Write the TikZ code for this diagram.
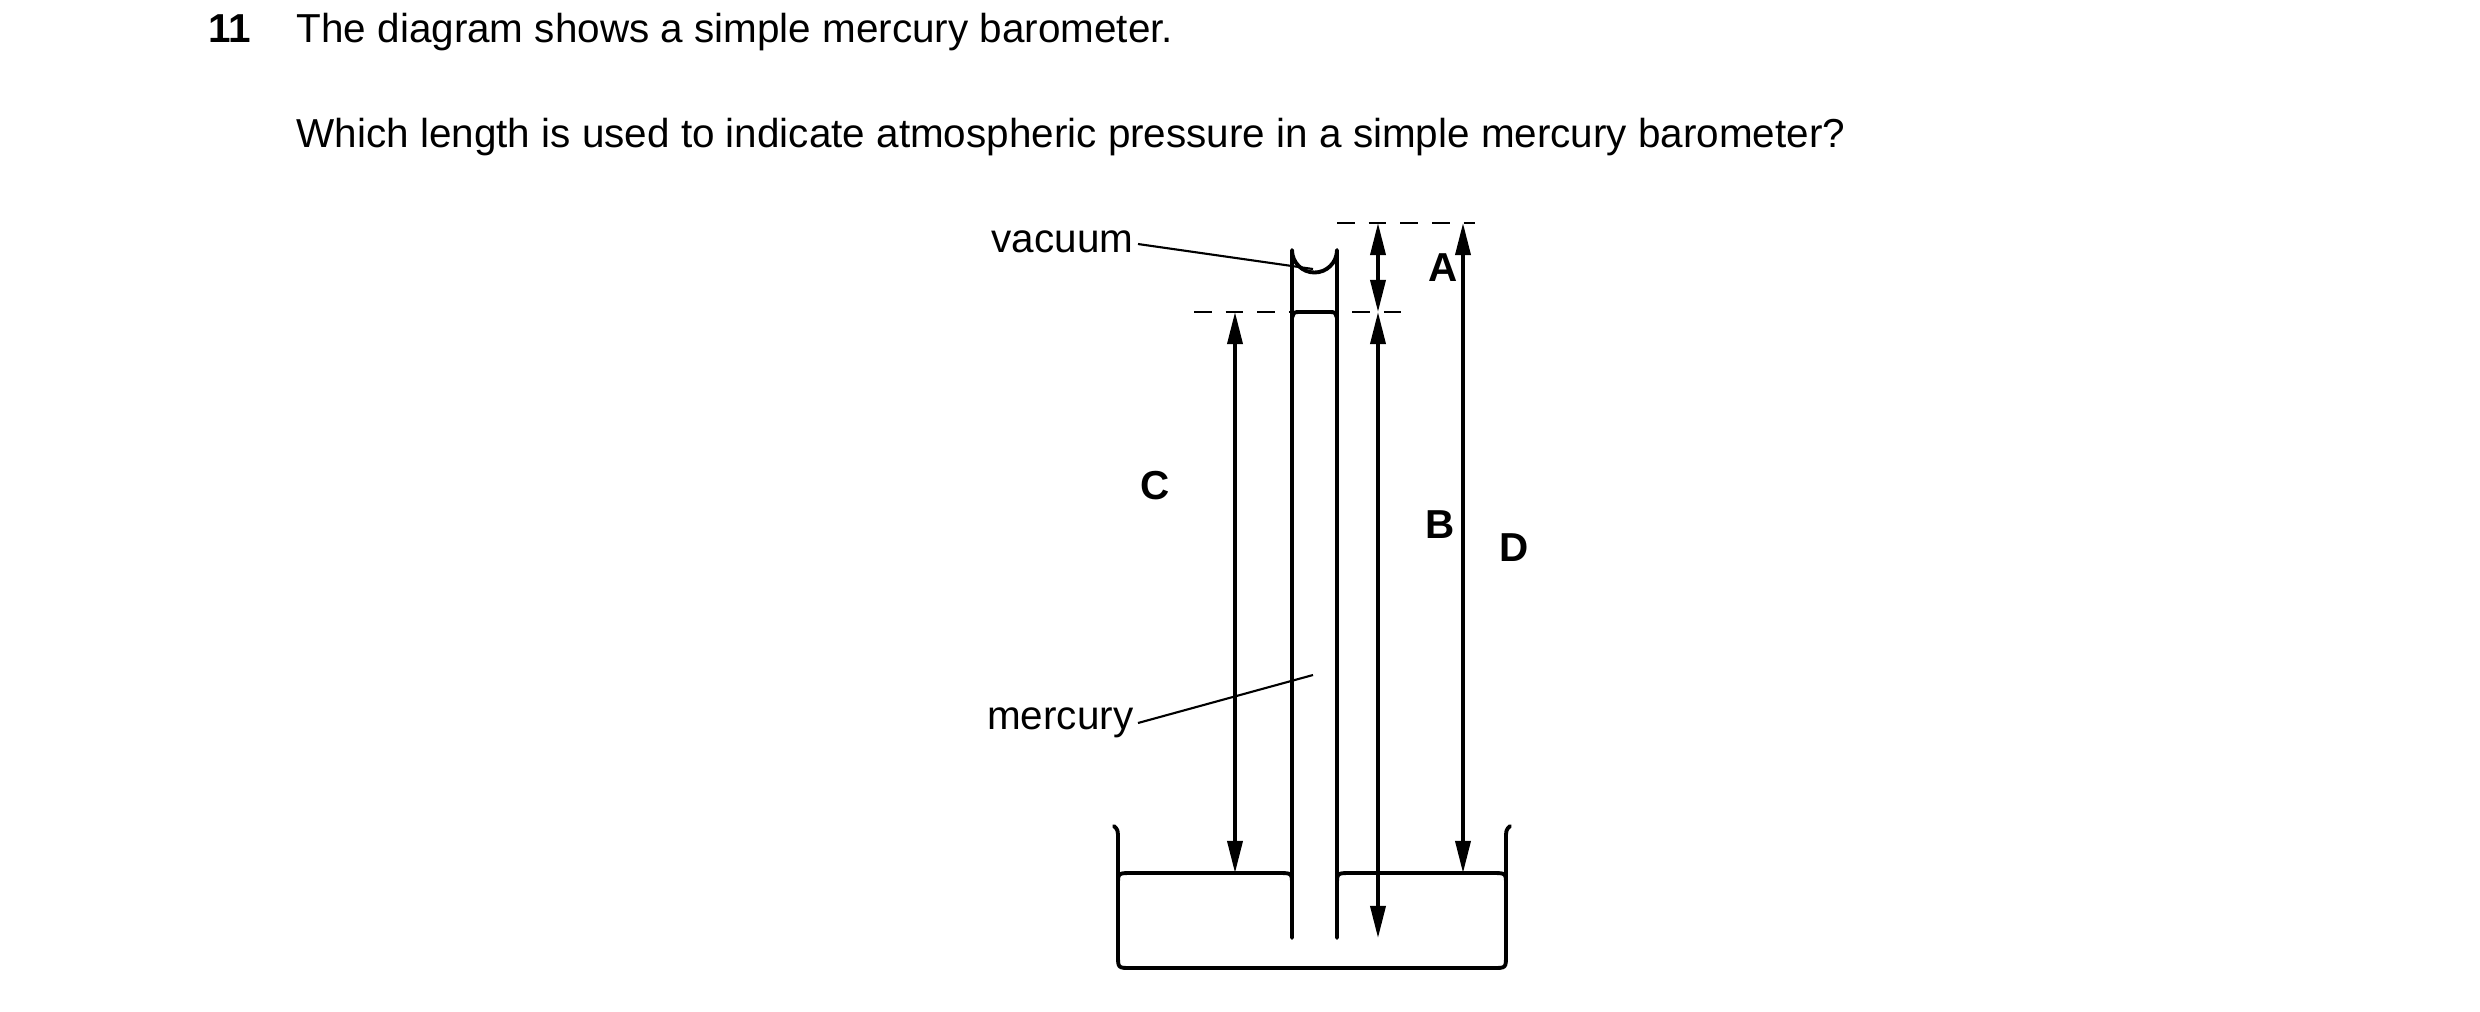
\documentclass[tikz,border=0pt]{standalone}
\usepackage{fontspec}
\setmainfont{Liberation Sans}
\usetikzlibrary{arrows.meta}
\begin{document}
\begin{tikzpicture}[x=0.01cm, y=-0.01cm,
	every node/.style={font=\fontsize{11.5}{13}\selectfont, inner sep=0pt},
	glass/.style={line width=1.1pt, line cap=round, line join=round},
	dim/.style={line width=1pt, {Triangle[length=3.2mm,width=1.5mm]}-{Triangle[length=3.2mm,width=1.5mm]}},
	level/.style={line width=0.6pt, dash pattern=on 5pt off 4pt},
	leader/.style={line width=0.6pt},
	letter/.style={font=\fontsize{11.5}{13}\selectfont\bfseries}]
	\useasboundingbox (0,0) rectangle (2480,1011);

	% question text
	\node[anchor=base west, font=\fontsize{11.5}{13}\selectfont\bfseries](qnum) at (208,42){11};
	\node[anchor=base west](qline1) at (296,42){The diagram shows a simple mercury barometer.};
	\node[anchor=base west](qline2) at (296,147){Which length is used to indicate atmospheric pressure in a simple mercury barometer?};

	% reference points
	\coordinate (topL) at (1322,223);
	\coordinate (topR) at (1475,223);
	\coordinate (menL) at (1194,312);
	\coordinate (menR) at (1410,312);
	\coordinate (cTop) at (1235,312);
	\coordinate (cBot) at (1235,873);
	\coordinate (aTop) at (1378,223);
	\coordinate (aBot) at (1378,312);
	\coordinate (bBot) at (1378,938);
	\coordinate (dTop) at (1463,223);
	\coordinate (dBot) at (1463,873);
	\coordinate (vacTip) at (1313,269);
	\coordinate (merTip) at (1313,675);

	% tube
	\draw[glass] (1292,938) -- (1292,250) arc[start angle=180, end angle=0, radius=22.5] -- (1337,938);
	\draw[glass] (1292,318) .. controls (1294,312) .. (1300,312) -- (1329,312) .. controls (1335,312) .. (1337,318);

	% dish
	\draw[glass] (1114,826) .. controls (1118,830) .. (1118,840) -- (1118,955) .. controls (1118,968) .. (1131,968)
		-- (1493,968) .. controls (1506,968) .. (1506,955) -- (1506,840) .. controls (1506,830) .. (1510,826);
	\draw[glass] (1118,885) .. controls (1118,873) .. (1132,873) -- (1278,873) .. controls (1292,873) .. (1292,885);
	\draw[glass] (1337,885) .. controls (1337,873) .. (1351,873) -- (1492,873) .. controls (1506,873) .. (1506,885);

	% levels
	\draw[level] (1337,223) -- (topR);
	\draw[level] (menL) -- (menR);

	% lengths
	\draw[dim] (cTop) -- node[letter, left=18pt, pos=0.31]{C} (cBot);
	\draw[dim] (aTop) -- node[letter, right=14pt, pos=0.5]{A} (aBot);
	\draw[line width=1pt, {Triangle[length=3.2mm,width=1.5mm]}-{Triangle[length=3.2mm,width=1.5mm]}] (aBot) -- node[letter, right=13pt, pos=0.34]{B} (bBot);
	\draw[dim] (dTop) -- node[letter, right=10pt, pos=0.5]{D} (dBot);

	% labels
	\node[anchor=east](vacuum) at (1134,242){vacuum};
	\node[anchor=east](mercury) at (1134,723){mercury};
	\draw[leader] (vacuum.east) ++(4,2) -- (vacTip);
	\draw[leader] (mercury.east) ++(4,0) -- (merTip);
\end{tikzpicture}
\end{document}
